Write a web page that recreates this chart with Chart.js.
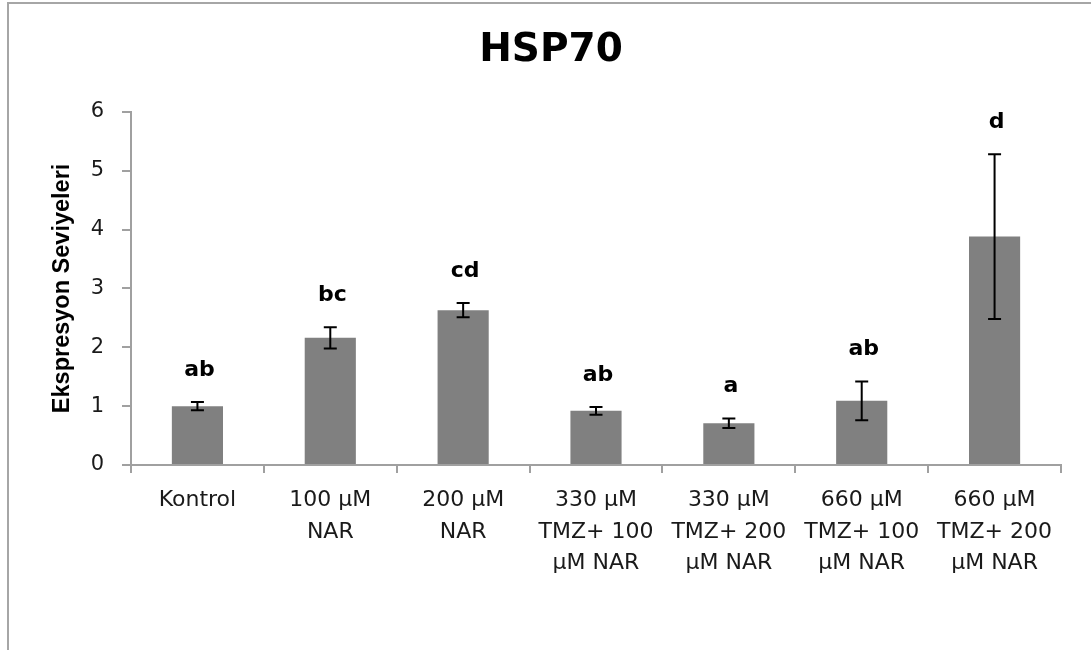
<!DOCTYPE html>
<html>
<head>
<meta charset="utf-8">
<script src="https://cdn.jsdelivr.net/npm/chart.js@4.4.1/dist/chart.umd.min.js"></script>
<style>
  html, body { margin: 0; padding: 0; background: #fff; overflow: hidden; }
  #wrap { position: relative; width: 1091px; height: 650px; }
  #frame { position: absolute; left: 7px; top: 2px; width: 1200px; height: 800px;
           border-left: 2px solid #a6a6a6; border-top: 2px solid #a6a6a6; pointer-events: none; }
</style>
</head>
<body>
<div id="wrap">
  <canvas id="barChart" width="1091" height="650"></canvas>
  <div id="frame"></div>
</div>
<script>
// data
var categories = [
    "Kontrol",
    ["100 µM", "NAR"],
    ["200 µM", "NAR"],
    ["330 µM", "TMZ+ 100", "µM NAR"],
    ["330 µM", "TMZ+ 200", "µM NAR"],
    ["660 µM", "TMZ+ 100", "µM NAR"],
    ["660 µM", "TMZ+ 200", "µM NAR"]
];
var expression = [1.0, 2.16, 2.63, 0.92, 0.71, 1.09, 3.88];
var errors = [0.07, 0.18, 0.12, 0.065, 0.08, 0.33, 1.40];
var groupLetters = ["ab", "bc", "cd", "ab", "a", "ab", "d"];
var yTicks = [0, 1, 2, 3, 4, 5, 6];

// error bars and significance letters
var errorBarPlugin = {
    id: 'errorBars',
    afterDatasetsDraw: function (chart) {
        var ctx = chart.ctx;
        var y = chart.scales.y;
        var meta = chart.getDatasetMeta(0);
        ctx.save();
        ctx.strokeStyle = '#000';
        ctx.lineWidth = 2;
        meta.data.forEach(function (bar, i) {
            var top = y.getPixelForValue(expression[i] + errors[i]);
            var bot = y.getPixelForValue(expression[i] - errors[i]);
            ctx.beginPath();
            ctx.moveTo(bar.x, top); ctx.lineTo(bar.x, bot);
            ctx.moveTo(bar.x - 6.5, top); ctx.lineTo(bar.x + 6.5, top);
            ctx.moveTo(bar.x - 6.5, bot); ctx.lineTo(bar.x + 6.5, bot);
            ctx.stroke();
            ctx.fillStyle = '#000';
            ctx.font = 'bold 22px "DejaVu Sans"';
            ctx.textAlign = 'center';
            ctx.textBaseline = 'alphabetic';
            ctx.fillText(groupLetters[i], bar.x + 2, top - 26);
        });
        ctx.restore();
    }
};

var ctxB = document.getElementById("barChart").getContext('2d');
var myBarChart = new Chart(ctxB, {
    type: 'bar',
    data: {
        labels: categories,
        datasets: [{
            label: "HSP70",
            data: expression,
            backgroundColor: '#808080',
            borderWidth: 0,
            barPercentage: 0.385,
            categoryPercentage: 1.0
        }]
    },
    options: {
        responsive: false,
        animation: false,
        layout: { padding: { left: 41, right: 30, top: 0, bottom: 0 } },
        plugins: {
            legend: { display: false },
            tooltip: { enabled: false },
            title: {
                display: true,
                text: "HSP70",
                color: '#000',
                font: { family: '"DejaVu Sans"', size: 39, weight: 'bold' },
                padding: { top: 27, bottom: 38 }
            }
        },
        scales: {
            x: {
                grid: { drawOnChartArea: false, tickLength: 8, color: '#a0a0a0', lineWidth: 2, offset: true },
                border: { color: '#a0a0a0', width: 2 },
                ticks: {
                    color: '#1a1a1a', padding: 11, maxRotation: 0, autoSkip: false,
                    font: { family: '"DejaVu Sans"', size: 22, lineHeight: 1.45 }
                },
                afterFit: function (s) { s.height = 185; }
            },
            y: {
                min: 0, max: 6,
                afterBuildTicks: function (s) { s.ticks = yTicks.map(function (v) { return { value: v }; }); },
                grid: { drawOnChartArea: false, tickLength: 9, color: '#a0a0a0', lineWidth: 2 },
                border: { color: '#a0a0a0', width: 2 },
                ticks: {
                    color: '#1a1a1a', padding: 18,
                    font: { family: '"DejaVu Sans"', size: 21 }
                },
                title: {
                    display: true,
                    text: "Ekspresyon Seviyeleri",
                    color: '#000',
                    font: { family: '"Liberation Sans"', size: 23.5, weight: 'bold', lineHeight: 1.2 },
                    padding: { top: 7, bottom: 0 }
                },
                afterFit: function (s) { s.width = 90; }
            }
        }
    },
    plugins: [errorBarPlugin]
});
</script>
</body>
</html>
